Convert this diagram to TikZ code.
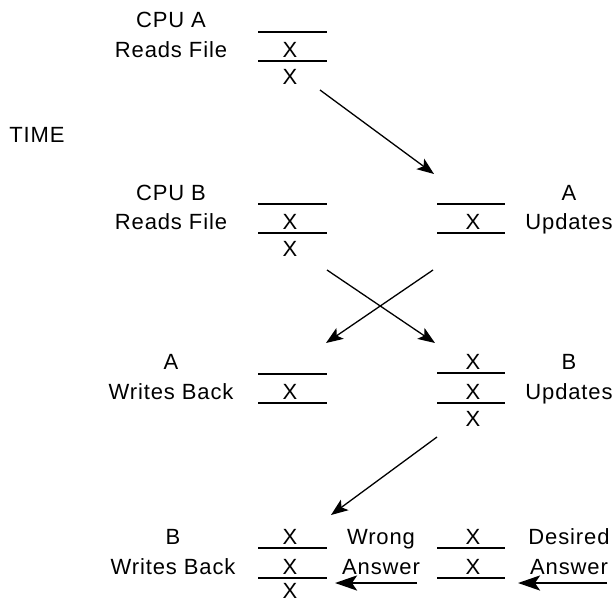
\documentclass[tikz,border=0pt]{standalone}
\usepackage{fontspec}
\setmainfont{Liberation Sans}[LetterSpace=4]
\usetikzlibrary{arrows.meta}

\begin{document}
\begin{tikzpicture}[x=1pt, y=-1pt, line width=1.4pt,
  lbl/.style={anchor=base, inner sep=0pt, font=\fontsize{22}{26}\selectfont},
  xmark/.style={lbl},
  arr/.style={-{Stealth[length=17pt, width=13pt, inset=4pt]}, line width=1.3pt},
  warr/.style={-{Stealth[length=22pt, width=15pt, inset=5pt]}, line width=2.6pt}]

\useasboundingbox (0,0) rectangle (615,602);

\node[lbl] (time) at (37,142) {TIME};

% CPU A reads the file
\node[lbl] (cpua) at (171,28) {CPU A};
\node[lbl] (reada) at (171,57) {Reads File};
\draw (258,32) -- (327,32);
\draw (258,61) -- (327,61);
\node[xmark] (xa1) at (290,57) {X};
\node[xmark] (xa2) at (290,84) {X};

% CPU B reads the file, A updates
\node[lbl] (cpub) at (171,200) {CPU B};
\node[lbl] (readb) at (171,229) {Reads File};
\draw (258,204) -- (327,204);
\draw (258,233) -- (327,233);
\node[xmark] (xb1) at (290,229) {X};
\node[xmark] (xb2) at (290,256) {X};

\draw (437,204) -- (505,204);
\draw (437,233) -- (505,233);
\node[xmark] (xua) at (473,229) {X};
\node[lbl] (upa1) at (569,200) {A};
\node[lbl] (upa2) at (569,229) {Updates};

% A writes back, B updates
\node[lbl] (wra1) at (171,369) {A};
\node[lbl] (wra2) at (171,399) {Writes Back};
\draw (258,374) -- (327,374);
\draw (258,403) -- (327,403);
\node[xmark] (xwa) at (290,399) {X};

\draw (437,373) -- (505,373);
\draw (437,403) -- (505,403);
\node[xmark] (xub1) at (473,369) {X};
\node[xmark] (xub2) at (473,399) {X};
\node[xmark] (xub3) at (473,426) {X};
\node[lbl] (upb1) at (569,369) {B};
\node[lbl] (upb2) at (569,399) {Updates};

% B writes back
\node[lbl] (wrb1) at (173,544) {B};
\node[lbl] (wrb2) at (173,574) {Writes Back};
\draw (258,548) -- (327,548);
\draw (258,578) -- (327,578);
\node[xmark] (xwb1) at (290,544) {X};
\node[xmark] (xwb2) at (290,574) {X};
\node[xmark] (xwb3) at (290,598) {X};

\node[lbl] (wrong1) at (381,544) {Wrong};
\node[lbl] (wrong2) at (381,574) {Answer};

\draw (437,548) -- (505,548);
\draw (437,578) -- (505,578);
\node[xmark] (xd1) at (473,544) {X};
\node[xmark] (xd2) at (473,574) {X};
\node[lbl] (want1) at (569,544) {Desired};
\node[lbl] (want2) at (569,574) {Answer};

% arrow ends
\coordinate (s1) at (320,90);
\coordinate (e1) at (434,174);
\coordinate (s2) at (433,270);
\coordinate (e2) at (326,343);
\coordinate (s3) at (327,270);
\coordinate (e3) at (435,343);
\coordinate (s4) at (437,437);
\coordinate (e4) at (331,515);
\coordinate (s5) at (417,583);
\coordinate (e5) at (335,583);
\coordinate (s6) at (607,583);
\coordinate (e6) at (518,583);

\draw[arr] (s1) -- (e1);
\draw[arr] (s2) -- (e2);
\draw[arr] (s3) -- (e3);
\draw[arr] (s4) -- (e4);
\draw[warr] (s5) -- (e5);
\draw[warr] (s6) -- (e6);

\end{tikzpicture}
\end{document}
